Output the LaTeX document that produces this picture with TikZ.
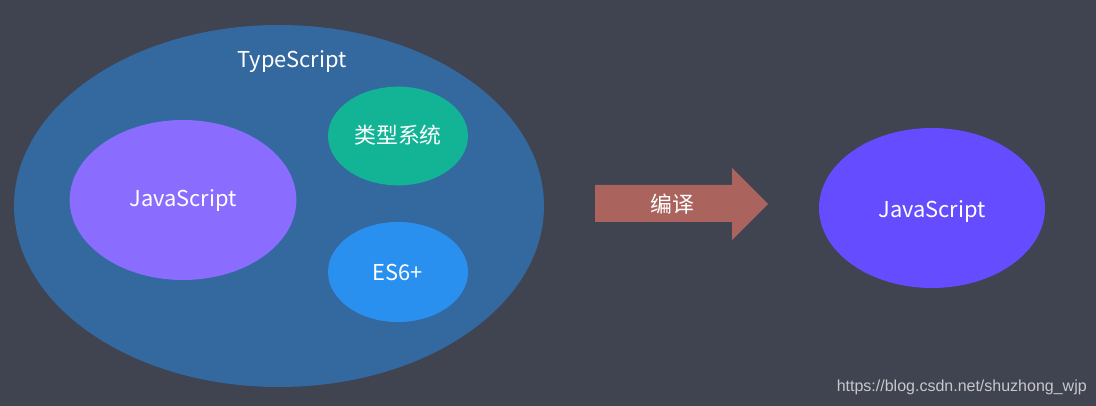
\documentclass[tikz,border=0pt]{standalone}
\usepackage{fontspec}
\setmainfont{Noto Sans CJK SC}
\newfontfamily\wmfont{Liberation Sans}
\usetikzlibrary{shapes.geometric,shapes.arrows}
\definecolor{bgc}{HTML}{404350}
\definecolor{tsc}{HTML}{3469A0}
\definecolor{jsl}{HTML}{8A6CFF}
\definecolor{grn}{HTML}{13B495}
\definecolor{esc}{HTML}{2A90F0}
\definecolor{arr}{HTML}{AB635E}
\definecolor{jsr}{HTML}{664CFF}
\definecolor{wmc}{HTML}{C8C8CC}
\tikzset{
  blob/.style={ellipse, draw=none, inner sep=0pt},
  lbl/.style={text=white, font=\fontsize{16.4}{19}\selectfont, inner sep=0pt, text height=12pt, text depth=0pt}
}
\begin{document}
\begin{tikzpicture}[x=0.75pt,y=-0.75pt]
\fill[bgc] (0,0) rectangle (1096,406);
\useasboundingbox (0,0) rectangle (1096,406);
\node[blob, fill=tsc, minimum width=397.5pt, minimum height=271.5pt] (ts) at (279,206) {};
\node[lbl] (tslbl) at (292,60) {TypeScript};
\node[blob, fill=jsl, minimum width=170pt, minimum height=120pt] (jsl) at (183,200) {};
\node[lbl] at (183,199) {JavaScript};
\node[blob, fill=grn, minimum width=105pt, minimum height=74pt] (typ) at (398,136) {};
\node[lbl] at (typ.center) {类型系统};
\node[blob, fill=esc, minimum width=105pt, minimum height=75pt] (es) at (398,272) {};
\node[lbl] at (es.center) {ES6+};
\fill[arr] (595,185) -- (732,185) -- (732,168) -- (768,204) -- (732,240) -- (732,222) -- (595,222) -- cycle;
\node[lbl] (cmp) at (672,205) {编译};
\node[blob, fill=jsr, minimum width=169.5pt, minimum height=120pt] (jsr) at (932,208) {};
\node[lbl] at (932,209.5) {JavaScript};
\node[text=wmc, font=\wmfont\fontsize{12}{14}\selectfont, anchor=east, inner sep=0pt] (wm) at (1087,387) {https://blog.csdn.net/shuzhong\_wjp};
\end{tikzpicture}
\end{document}
